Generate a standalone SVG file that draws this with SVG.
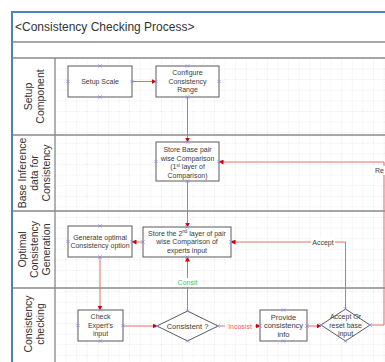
<svg xmlns="http://www.w3.org/2000/svg" width="385" height="362" viewBox="0 0 385 362">
  <style>
    .frame { fill: none; stroke: #4f81bd; stroke-width: 2; }
    .lane { fill: none; stroke: #8a8a8a; stroke-width: 1.3; }
    .box { fill: #ffffff; stroke: #5a5a5a; stroke-width: 1; }
    .t { font-family: "Liberation Sans", Arial, sans-serif; font-size: 7px; fill: #3a3a3a; text-anchor: middle; }
    .lt { font-family: "Liberation Sans", Arial, sans-serif; font-size: 10.5px; fill: #333333; text-anchor: middle; }
    .title { font-family: "Liberation Sans", Arial, sans-serif; font-size: 12px; fill: #333333; }
    .edge { fill: none; stroke: #e86a6a; stroke-width: 1; marker-end: url(#arrow); }
    .edge2 { fill: none; stroke: #e86a6a; stroke-width: 1; }
    .cp { stroke: #8c8cf0; stroke-width: 0.9; }
  </style>
  <defs>
    <pattern id="grid" x="55" y="58" width="10.6" height="10.6" patternUnits="userSpaceOnUse">
      <path d="M0 0 H10.6 M0 0 V10.6" fill="none" stroke="#cfcfcf" stroke-width="0.6" stroke-dasharray="1.2 1.2"/>
    </pattern>
    <marker id="arrow" viewBox="0 0 10 10" refX="9" refY="5" markerWidth="5" markerHeight="5" orient="auto">
      <path d="M0 0 L10 5 L0 10 z" fill="#d40000"/>
    </marker>
    <g id="cpx">
      <path d="M-1.6 -1.6 L1.6 1.6 M-1.6 1.6 L1.6 -1.6" class="cp"/>
    </g>
  </defs>

  <!-- background and swimlane frame -->
  <rect x="0" y="0" width="385" height="362" fill="#ffffff"/>
  <rect x="55" y="58" width="330" height="304" fill="url(#grid)"/>
  <g id="lanes">
    <line x1="12" y1="42" x2="385" y2="42" class="lane"/>
    <line x1="12" y1="58" x2="385" y2="58" class="lane"/>
    <line x1="12" y1="135" x2="385" y2="135" class="lane"/>
    <line x1="12" y1="211" x2="385" y2="211" class="lane"/>
    <line x1="12" y1="288" x2="385" y2="288" class="lane"/>
    <line x1="55" y1="58" x2="55" y2="362" class="lane"/>
    <path d="M12 362 V12 H385" class="frame"/>
    <text x="15" y="31" class="title">&lt;Consistency Checking Process&gt;</text>

    <g transform="translate(33.5 96.5) rotate(-90)">
      <text class="lt" x="0" y="-2">Setup</text>
      <text class="lt" x="0" y="10">Component</text>
    </g>
    <g transform="translate(34 173) rotate(-90)">
      <text class="lt" x="0" y="-8">Base Inference</text>
      <text class="lt" x="0" y="4">data for</text>
      <text class="lt" x="0" y="16">Consistency</text>
    </g>
    <g transform="translate(34 249.5) rotate(-90)">
      <text class="lt" x="0" y="-8">Optimal</text>
      <text class="lt" x="0" y="4">Consistency</text>
      <text class="lt" x="0" y="16">Generation</text>
    </g>
    <g transform="translate(33.5 324) rotate(-90)">
      <text class="lt" x="0" y="-2">Consistency</text>
      <text class="lt" x="0" y="10">checking</text>
    </g>
  </g>

  <!-- connectors -->
  <g id="connectors">
    <path d="M132 81.5 H156" class="edge"/>
    <path d="M187.5 97 V142" class="edge"/>
    <path d="M187.5 181 V227" class="edge"/>
    <path d="M143 242 H132" class="edge"/>
    <path d="M100 257 V310" class="edge"/>
    <path d="M123 326 H157" class="edge"/>
    <path d="M187.5 311 V257" class="edge"/>
    <path d="M218 326 H260" class="edge"/>
    <path d="M307 326 H321" class="edge"/>
    <path d="M345.5 309 V242 H231" class="edge"/>
    <path d="M370 325 H384 V162 H219" class="edge"/>

    <rect x="174" y="278" width="27" height="9" fill="#ffffff"/>
    <text x="187.5" y="285" class="t" fill="#33cc66" style="fill:#33cc66">Consit</text>
    <rect x="225" y="322" width="30" height="8" fill="#ffffff"/>
    <text x="240" y="328.5" class="t" style="fill:#ff5a5a">Incosist</text>
    <rect x="311" y="238" width="24" height="8" fill="#ffffff"/>
    <text x="323" y="244.5" class="t">Accept</text>
    <rect x="373" y="166" width="12" height="9" fill="#ffffff"/>
    <text x="375" y="173" class="t" style="text-anchor:start">Re</text>
  </g>

  <!-- process nodes -->
  <g id="setup-scale">
    <rect x="68" y="66" width="64" height="31" class="box"/>
    <text x="100" y="84" class="t">Setup Scale</text>
    <use href="#cpx" x="100" y="66"/><use href="#cpx" x="100" y="97"/>
    <use href="#cpx" x="68" y="81.5"/><use href="#cpx" x="132" y="81.5"/>
  </g>
  <g id="configure-range">
    <rect x="156" y="66" width="63" height="31" class="box"/>
    <text x="187.5" y="75" class="t">Configure</text>
    <text x="187.5" y="83.5" class="t">Consistency</text>
    <text x="187.5" y="92" class="t">Range</text>
    <use href="#cpx" x="187.5" y="66"/><use href="#cpx" x="187.5" y="97"/>
    <use href="#cpx" x="156" y="81.5"/><use href="#cpx" x="219" y="81.5"/>
  </g>
  <g id="store-base">
    <rect x="156" y="142" width="63" height="39" class="box"/>
    <text x="187.5" y="152" class="t">Store Base pair</text>
    <text x="187.5" y="160.5" class="t">wise Comparison</text>
    <text x="187.5" y="169" class="t">(1<tspan font-size="4.5" dy="-2.5">st</tspan><tspan dy="2.5"> layer of</tspan></text>
    <text x="187.5" y="177.5" class="t">Comparison)</text>
    <use href="#cpx" x="187.5" y="142"/><use href="#cpx" x="187.5" y="181"/>
    <use href="#cpx" x="156" y="161.5"/><use href="#cpx" x="219" y="161.5"/>
  </g>
  <g id="store-second">
    <rect x="143" y="227" width="88" height="30" class="box"/>
    <text x="187" y="235.5" class="t">Store the 2<tspan font-size="4.5" dy="-2.5">nd</tspan><tspan dy="2.5"> layer of pair</tspan></text>
    <text x="187" y="244" class="t">wise Comparison of</text>
    <text x="187" y="252.5" class="t">experts input</text>
    <use href="#cpx" x="187" y="227"/><use href="#cpx" x="187" y="257"/>
    <use href="#cpx" x="143" y="242"/><use href="#cpx" x="231" y="242"/>
  </g>
  <g id="generate-optimal">
    <rect x="68" y="226" width="64" height="31" class="box"/>
    <text x="100" y="239.5" class="t">Generate optimal</text>
    <text x="100" y="248" class="t">Consistency option</text>
    <use href="#cpx" x="100" y="226"/><use href="#cpx" x="100" y="257"/>
    <use href="#cpx" x="68" y="241.5"/><use href="#cpx" x="132" y="241.5"/>
  </g>
  <g id="check-input">
    <rect x="78" y="310" width="45" height="31" class="box"/>
    <text x="100.5" y="319" class="t">Check</text>
    <text x="100.5" y="327.5" class="t">Expert's</text>
    <text x="100.5" y="336" class="t">input</text>
    <use href="#cpx" x="100.5" y="310"/><use href="#cpx" x="100.5" y="341"/>
    <use href="#cpx" x="78" y="325.5"/><use href="#cpx" x="123" y="325.5"/>
  </g>
  <g id="consistent-decision">
    <path d="M187.5 311 L218 326 L187.5 341 L157 326 Z" class="box"/>
    <text x="187.5" y="328.5" class="t" style="font-size:7.5px">Consistent ?</text>
    <use href="#cpx" x="187.5" y="311"/><use href="#cpx" x="187.5" y="341"/>
    <use href="#cpx" x="157" y="326"/><use href="#cpx" x="218" y="326"/>
  </g>
  <g id="provide-info">
    <rect x="260" y="310" width="47" height="31" class="box"/>
    <text x="283.5" y="319.5" class="t" style="font-size:7.5px">Provide</text>
    <text x="283.5" y="328" class="t" style="font-size:7.5px">consistency</text>
    <text x="283.5" y="336.5" class="t" style="font-size:7.5px">info</text>
    <use href="#cpx" x="283.5" y="310"/><use href="#cpx" x="283.5" y="341"/>
    <use href="#cpx" x="260" y="326"/><use href="#cpx" x="307" y="326"/>
  </g>
  <g id="accept-or-reset">
    <text x="345.5" y="319" class="t">Accept Or</text>
    <text x="345.5" y="327.5" class="t">reset base</text>
    <text x="345.5" y="336" class="t">input</text>
    <path d="M345.5 309 L370 325 L345.5 341 L321 325 Z" fill="none" stroke="#5a5a5a" stroke-width="1"/>
    <use href="#cpx" x="345.5" y="309"/><use href="#cpx" x="345.5" y="341"/>
    <use href="#cpx" x="321" y="325"/><use href="#cpx" x="370" y="325"/>
  </g>
</svg>
